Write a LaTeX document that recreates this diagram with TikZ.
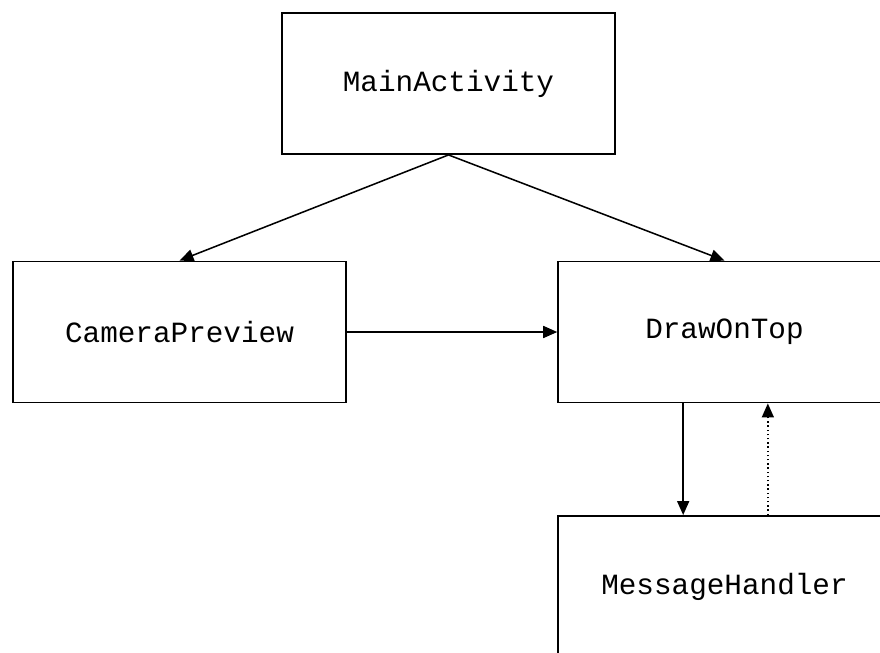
\documentclass[tikz,border=0pt]{standalone}
\usepackage{fontspec}
\setmonofont{Liberation Mono}
\usetikzlibrary{arrows.meta}
\begin{document}
\begin{tikzpicture}[x=0.75pt,y=-0.75pt,
  box/.style={draw,line width=1.15pt,minimum width=249.75pt,minimum height=106pt,inner sep=0pt,font=\ttfamily\fontsize{22}{24}\selectfont},
  conn/.style={line width=1.15pt,-{Triangle[length=10.5pt,width=9pt]}}]
\useasboundingbox (0,0) rectangle (880,652);
\clip (0,0) rectangle (880,652);
\fill[white] (0,0) rectangle (880,652);
\node[box] (ma) at (448.5,83.5) {MainActivity};
\node[box] (cp) at (179.5,332) {CameraPreview};
\node[box] (dt) at (724.5,332) {DrawOnTop};
\node[box] (mh) at (724.5,586.5) {MessageHandler};
\draw[conn] (ma.south) -- (cp.north);
\draw[conn] (ma.south) -- (dt.north);
\draw[conn] (cp.east) -- (dt.west);
\coordinate (a1) at ([xshift=-31pt]dt.south);
\coordinate (a2) at ([xshift=-31pt]mh.north);
\coordinate (b1) at ([xshift=32.5pt]mh.north);
\coordinate (b2) at ([xshift=32.5pt]dt.south);
\draw[conn] (a1) -- (a2);
\draw[conn,dotted] (b1) -- (b2);
\end{tikzpicture}
\end{document}
